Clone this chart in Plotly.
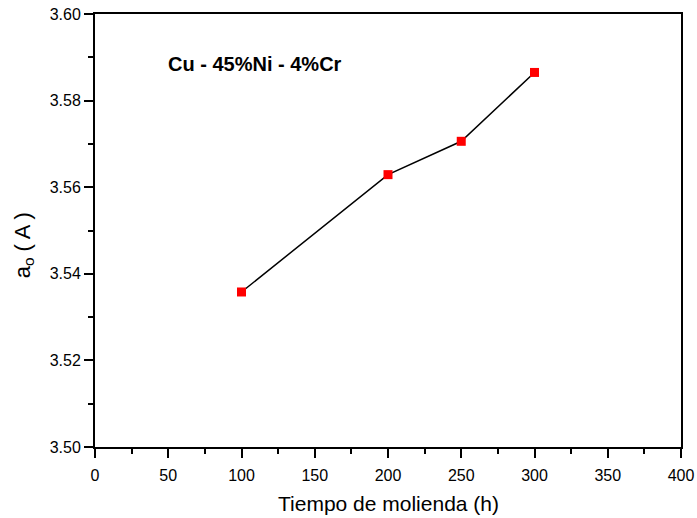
import plotly.graph_objects as go

milling_time_h = [100, 200, 250, 300]
lattice_param = [3.5358, 3.5629, 3.5706, 3.5865]
x_ticks = [0, 50, 100, 150, 200, 250, 300, 350, 400]
y_ticks = [3.50, 3.52, 3.54, 3.56, 3.58, 3.60]

fig = go.Figure()
fig.add_trace(go.Scatter(
    x=milling_time_h, y=lattice_param, mode="lines+markers",
    line=dict(color="black", width=1.5),
    marker=dict(symbol="square", size=9, color="red"),
    showlegend=False,
))

font = "Liberation Sans, Arial, sans-serif"
fig.update_layout(
    width=697, height=518,
    margin=dict(l=95, r=16, t=14, b=71),
    plot_bgcolor="white", paper_bgcolor="white",
    font=dict(family=font, color="black", size=16),
    annotations=[
        dict(x=0.121, y=0.885, xref="paper", yref="paper", xanchor="left", yanchor="middle",
             text="<b>Cu - 45%Ni - 4%Cr</b>", showarrow=False,
             font=dict(family=font, size=20, color="black")),
        dict(x=0.5, y=-0.13, xref="paper", yref="paper", xanchor="center", yanchor="middle",
             text="Tiempo de molienda (h)", showarrow=False,
             font=dict(family=font, size=21, color="black")),
        dict(x=-0.121, y=0.466, xref="paper", yref="paper", xanchor="center", yanchor="middle",
             text="a<sub>o</sub> ( A )", showarrow=False, textangle=-90,
             font=dict(family=font, size=22, color="black")),
    ],
)
fig.update_xaxes(
    range=[0, 400], tickvals=x_ticks, ticktext=[str(v) for v in x_ticks],
    automargin=False, ticklabelstandoff=4,
    showgrid=False, zeroline=False, showline=True, linecolor="black", linewidth=2,
    mirror=True, ticks="outside", ticklen=9, tickwidth=1.5, tickcolor="black",
    minor=dict(dtick=25, ticks="outside", ticklen=5, tickwidth=1.5, tickcolor="black", showgrid=False),
    tickfont=dict(size=16),
)
fig.update_yaxes(
    range=[3.50, 3.60], tickvals=y_ticks, ticktext=[f"{v:.2f}" for v in y_ticks],
    automargin=False,
    showgrid=False, zeroline=False, showline=True, linecolor="black", linewidth=2,
    mirror=True, ticks="outside", ticklen=9, tickwidth=1.5, tickcolor="black",
    minor=dict(dtick=0.01, ticks="outside", ticklen=5, tickwidth=1.5, tickcolor="black", showgrid=False),
    tickfont=dict(size=16),
)

fig.write_html("out.html")
